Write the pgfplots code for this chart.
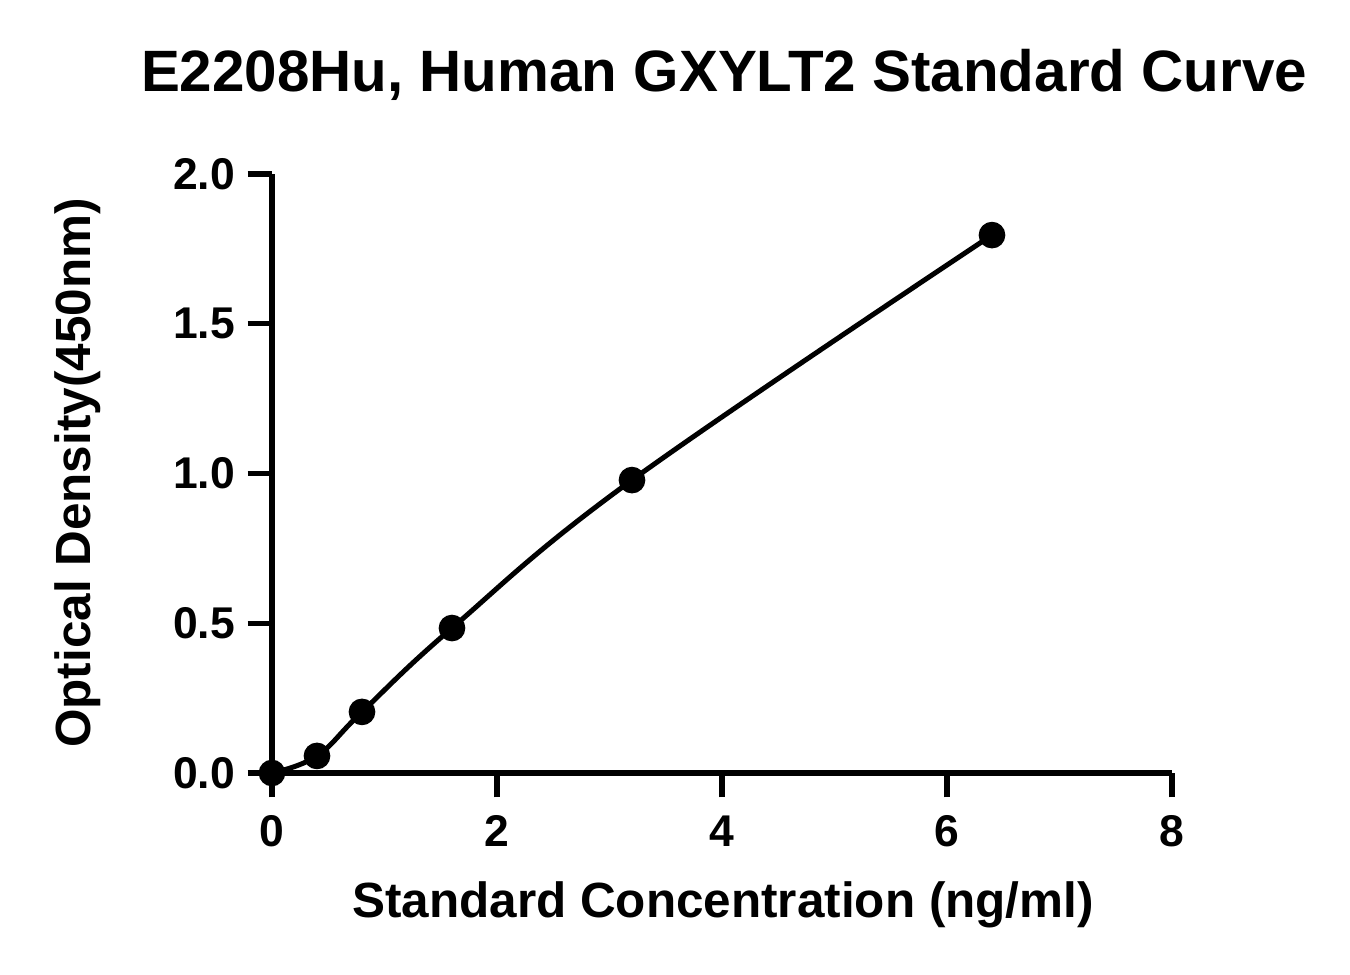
\documentclass[border=0pt]{standalone}
\usepackage{pgfplots}
\pgfplotsset{compat=1.18}
\usepackage{fontspec}
\setmainfont{Liberation Sans}

\begin{document}
\begin{tikzpicture}[x=0.36pt,y=0.36pt]
\begin{axis}[
    at={(0,0)}, anchor=origin,
    scale only axis,
    width=324pt, height=215.64pt,
    xmin=0, xmax=8, ymin=0, ymax=2,
    axis lines=left,
    axis line style={line width=1.9pt, -},
    xtick={0,2,4,6,8},
    ytick={0,0.5,1,1.5,2},
    y tick label style={/pgf/number format/fixed, /pgf/number format/fixed zerofill, /pgf/number format/precision=1},
    tick style={line width=1.9pt, black},
    tick align=outside,
    major tick length=8.8pt,
    ticklabel style={font=\bfseries\fontsize{16}{19}\selectfont},
    /pgf/number format/assume math mode=true,
    xticklabel style={yshift=-3pt},
    yticklabel style={xshift=-1pt},
    clip=false,
]
\addplot[black, line width=1.8pt, smooth, tension=0.65] coordinates {
    (0,0) (0.4,0.057) (0.8,0.204) (1.6,0.484) (3.2,0.978) (6.4,1.796)
};
\addplot[only marks, mark=*, mark size=4.6pt, black] coordinates {
    (0,0) (0.4,0.057) (0.8,0.204) (1.6,0.484) (3.2,0.978) (6.4,1.796)
};
\end{axis}
\node[font=\bfseries\fontsize{21}{25}\selectfont] at (724-272,698) {E2208Hu, Human GXYLT2 Standard Curve};
\node[font=\bfseries\fontsize{17.8}{21}\selectfont] at (723-272,-132) {Standard Concentration (ng/ml)};
\node[font=\bfseries\fontsize{17.8}{21}\selectfont, rotate=90] at (-194,300) {Optical Density(450nm)};
\path[use as bounding box] (-272,-202) rectangle (1078,773);
\end{tikzpicture}
\end{document}
